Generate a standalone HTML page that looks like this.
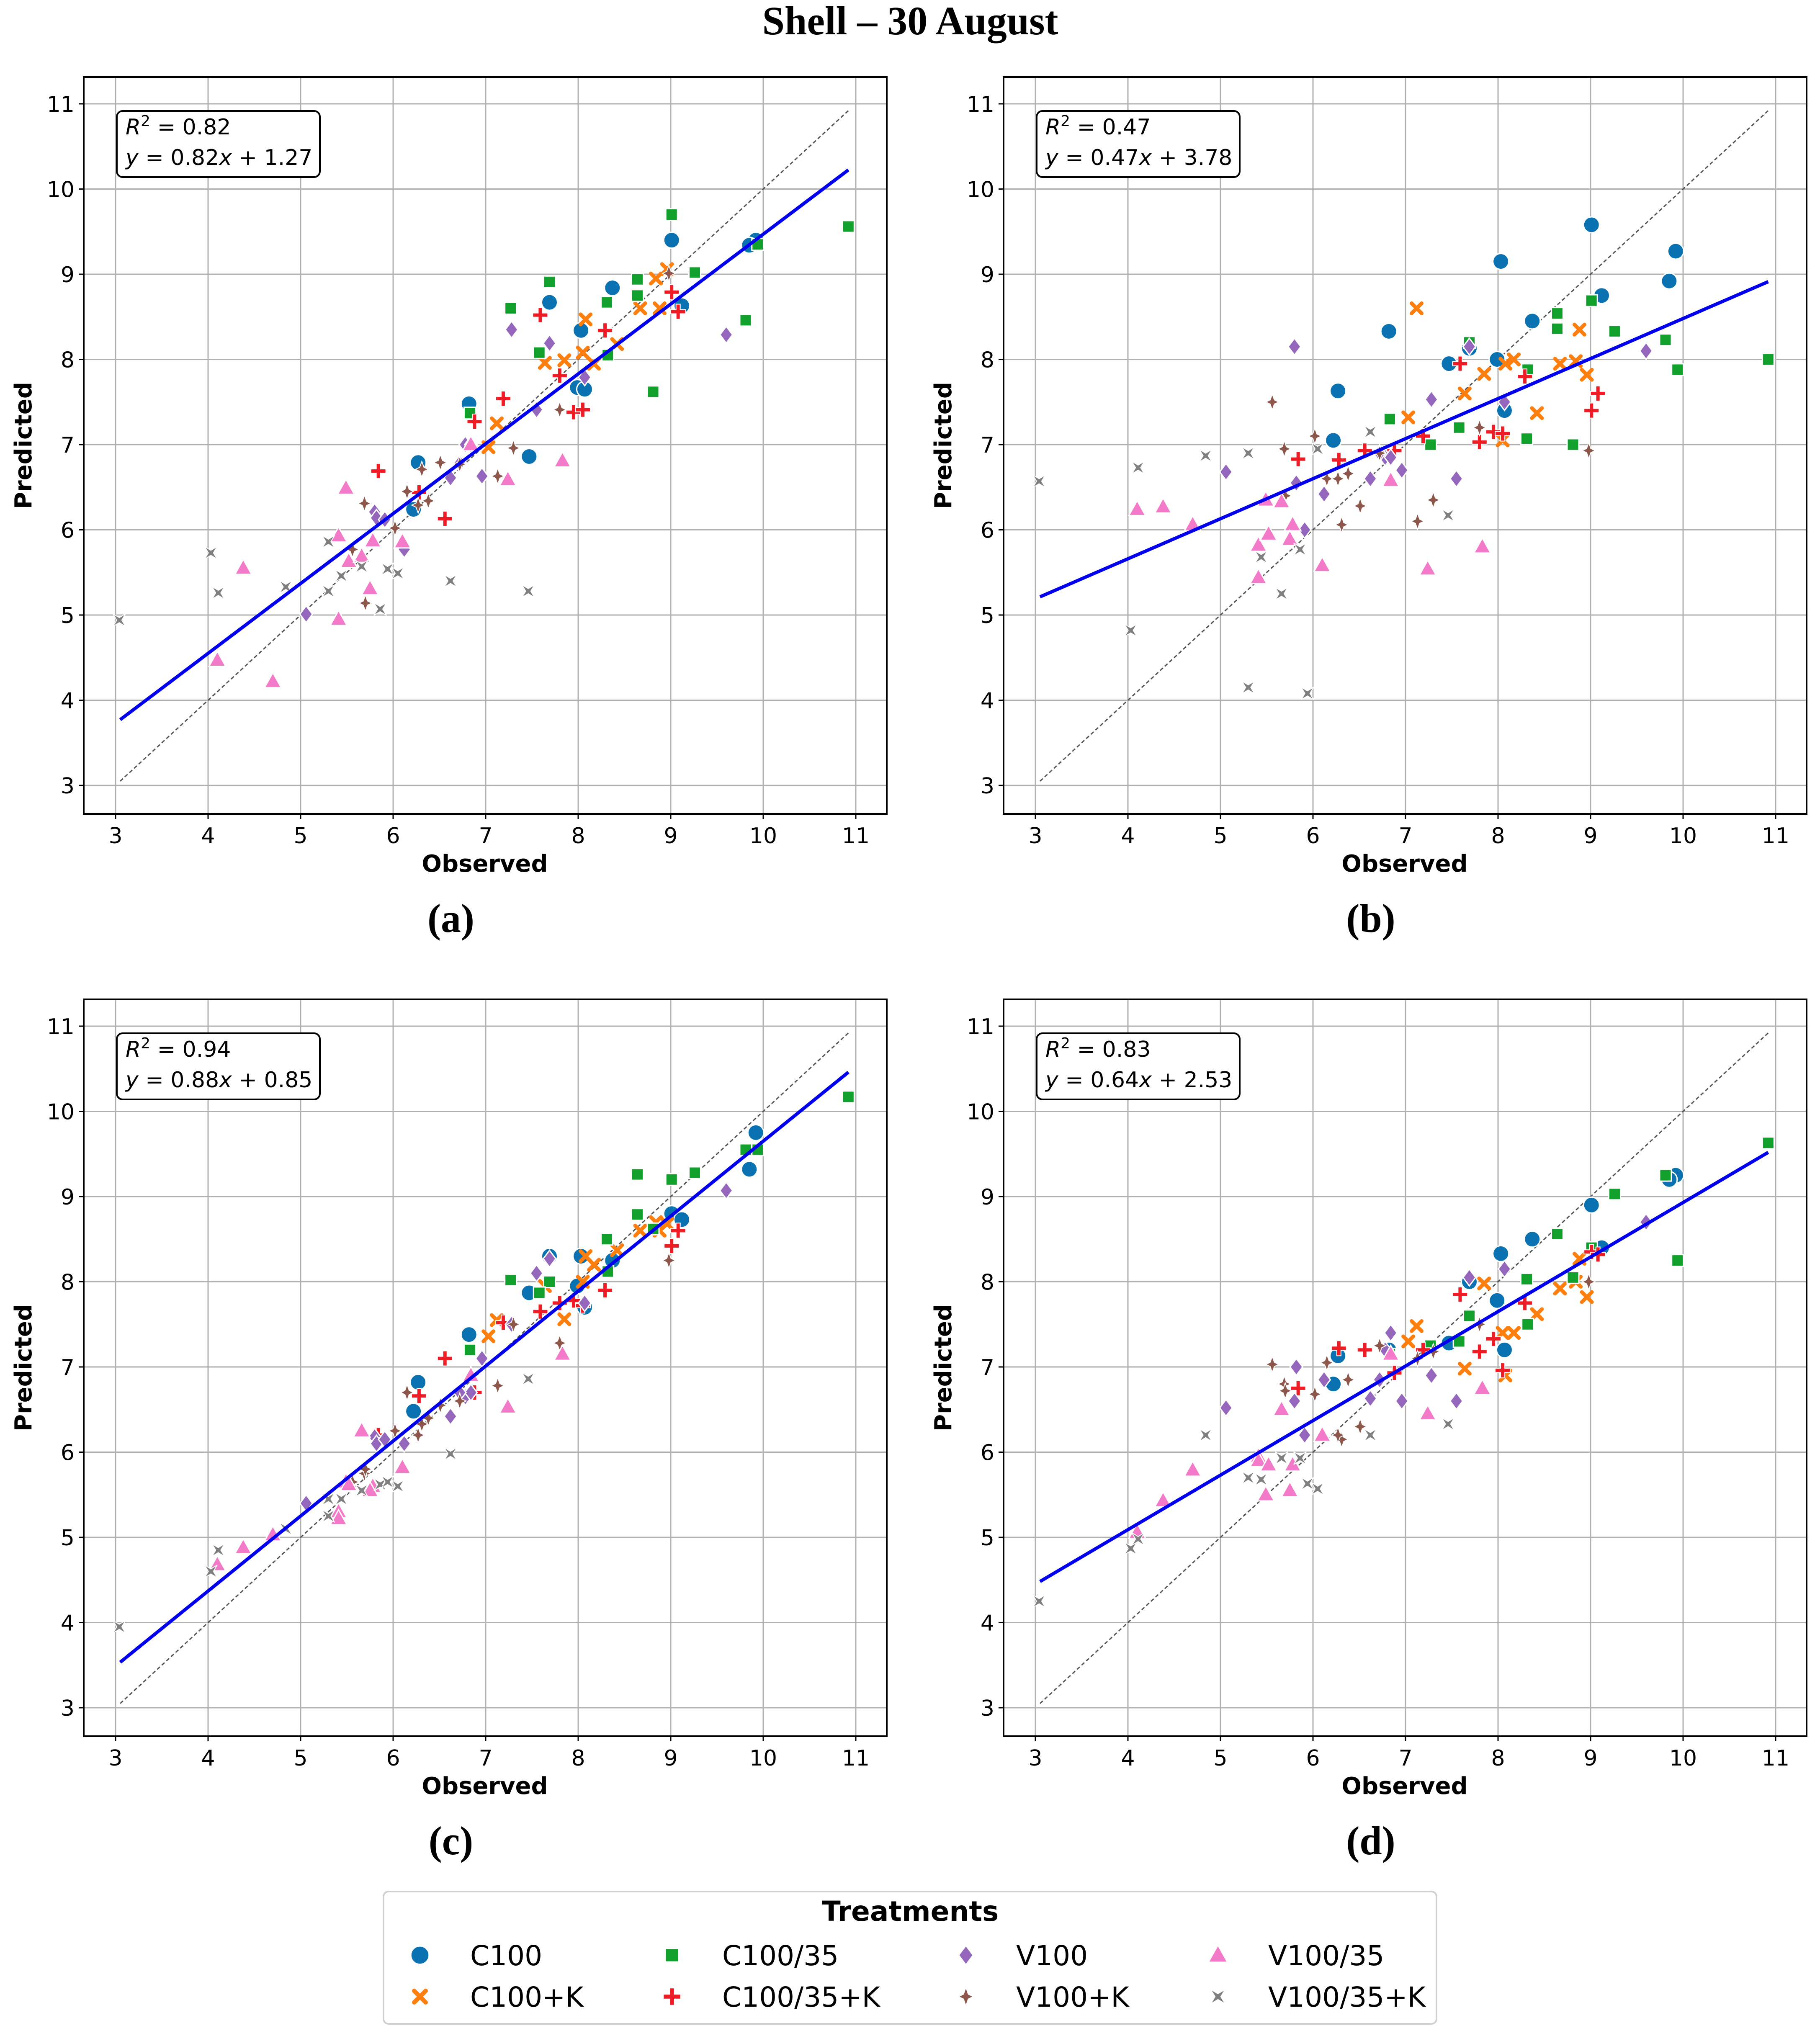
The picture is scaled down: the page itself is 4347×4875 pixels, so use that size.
<!DOCTYPE html>
<html><head><meta charset="utf-8"><style>
html,body{margin:0;padding:0;background:#fff;}
svg{display:block;}
</style></head><body>
<svg id="fig" width="4347" height="4875" viewBox="0 0 4347 4875" xmlns="http://www.w3.org/2000/svg">
<rect x="0" y="0" width="4347" height="4875" fill="#fff"/>
<text x="2174" y="82" text-anchor="middle" font-family="Liberation Serif, serif" font-weight="bold" font-size="96">Shell – 30 August</text>
<g id="panels"></g>
<g id="legend">
<rect x="916" y="4518" width="2515" height="316" rx="12" fill="#fff" stroke="#d0d0d0" stroke-width="4"/>
<text x="2174" y="4588" text-anchor="middle" font-family="DejaVu Sans, sans-serif" font-weight="bold" font-size="66">Treatments</text>
</g>
</svg>
<script>
const NS='http://www.w3.org/2000/svg';
const treatments=['C100','C100+K','C100/35','C100/35+K','V100','V100+K','V100/35','V100/35+K'];
const colors=['#0a72b0','#ff7f0e','#12a02c','#ee1c25','#9467bd','#8c564b','#f27ac8','#7f7f7f'];
const shapes=['circle','x','square','plus','diamond','star','triangle','xstar'];

// Observed values per treatment
const obsC100=[7.69,9.01,8.37,8.03,7.99,8.07,6.82,6.27,6.22,7.47,9.12,9.92,9.85];
const obsC100K=[8.08,7.64,7.85,8.05,8.17,8.42,8.67,8.84,8.96,8.88,7.12,7.03];
const obsC10035=[9.01,7.69,7.27,8.64,8.64,8.31,7.58,8.32,9.26,10.92,9.94,9.81,8.81,6.83];
const obsC10035K=[7.59,8.29,9.01,9.08,7.80,7.95,8.05,7.19,6.88,5.84,6.56,6.28];
const obsV100=[7.28,7.69,9.60,8.07,7.55,6.78,6.84,6.96,6.62,6.72,5.80,5.82,5.91,6.12,5.06];
const obsV100K=[8.98,7.80,7.30,7.13,6.51,6.31,6.15,6.27,6.38,5.69,5.56,6.02,5.70,6.72];
const obsV10035=[5.49,5.41,4.38,4.10,4.70,5.41,5.52,5.66,5.78,5.75,6.10,7.24,7.83,6.84];
const obsV10035K=[3.04,4.03,4.11,4.84,5.30,5.30,5.44,5.66,5.86,5.94,6.05,6.62,7.46];

// Panel (a) predicted
const aC100=[8.67,9.40,8.84,8.34,7.67,7.65,7.48,6.79,6.24,6.86,8.63,9.40,9.34];
const aC100K=[8.47,7.96,7.99,8.08,7.95,8.18,8.60,8.95,9.06,8.60,7.25,6.97];
const aC10035=[9.70,8.91,8.60,8.94,8.75,8.67,8.08,8.05,9.02,9.56,9.35,8.46,7.62,7.37];
const aC10035K=[8.52,8.34,8.79,8.56,7.81,7.38,7.41,7.54,7.27,6.69,6.13,6.44];
const aV100=[8.35,8.19,8.29,7.79,7.41,7.00,7.00,6.63,6.61,6.78,6.21,6.14,6.12,5.77,5.01];
const aV100K=[9.01,7.41,6.96,6.63,6.79,6.71,6.45,6.29,6.34,6.31,5.77,6.02,5.14,6.77];
const aV10035=[6.49,5.93,5.55,4.47,4.22,4.95,5.63,5.69,5.87,5.31,5.86,6.59,6.81,7.00];
const aV10035K=[4.94,5.73,5.26,5.33,5.86,5.28,5.46,5.57,5.07,5.54,5.49,5.40,5.28];
// Panel (b) predicted
const bC100=[8.13,9.58,8.45,9.15,8.00,7.40,8.33,7.63,7.05,7.95,8.75,9.27,8.92];
const bC100K=[7.95,7.60,7.83,7.05,8.00,7.37,7.95,7.98,7.82,8.35,8.60,7.32];
const bC10035=[8.69,8.20,7.00,8.54,8.36,7.07,7.20,7.88,8.33,8.00,7.88,8.23,7.00,7.30];
const bC10035K=[7.95,7.80,7.40,7.60,7.03,7.15,7.13,7.10,6.93,6.83,6.93,6.82];
const bV100=[7.53,8.15,8.10,7.50,6.60,6.85,6.85,6.70,6.60,6.90,8.15,6.55,6.00,6.42,6.68];
const bV100K=[6.93,7.20,6.35,6.10,6.28,6.06,6.60,6.60,6.66,6.95,7.50,7.10,6.40,6.90];
const bV10035=[6.35,5.82,6.27,6.24,6.06,5.44,5.95,6.33,6.06,5.89,5.58,5.54,5.80,6.58];
const bV10035K=[6.57,4.82,6.73,6.87,6.90,4.15,5.68,5.25,5.77,4.08,6.95,7.15,6.17];
// Panel (c) predicted
const cC100=[8.30,8.80,8.25,8.30,7.95,7.70,7.38,6.82,6.48,7.87,8.73,9.75,9.32];
const cC100K=[8.30,7.95,7.56,8.00,8.20,8.37,8.60,8.70,8.68,8.60,7.55,7.36];
const cC10035=[9.20,8.00,8.02,9.26,8.79,8.50,7.87,8.12,9.28,10.17,9.55,9.55,8.62,7.20];
const cC10035K=[7.65,7.90,8.42,8.60,7.75,7.78,7.72,7.52,6.70,6.20,7.10,6.66];
const cV100=[7.50,8.27,9.07,7.75,8.10,6.65,6.70,7.10,6.42,6.70,6.18,6.10,6.15,6.10,5.40];
const cV100K=[8.25,7.28,7.50,6.78,6.55,6.33,6.70,6.20,6.40,5.75,5.65,6.25,5.80,6.60];
const cV10035=[5.65,5.30,4.88,4.68,5.03,5.22,5.62,6.25,5.60,5.55,5.82,6.53,7.15,6.90];
const cV10035K=[3.95,4.60,4.85,5.10,5.25,5.45,5.45,5.55,5.62,5.65,5.60,5.98,6.86];
// Panel (d) predicted
const dC100=[8.00,8.90,8.50,8.33,7.78,7.20,7.20,7.13,6.80,7.28,8.40,9.25,9.20];
const dC100K=[6.90,6.98,7.98,7.40,7.40,7.62,7.92,8.00,7.82,8.27,7.48,7.30];
const dC10035=[8.40,7.60,7.25,8.56,8.56,8.03,7.30,7.50,9.03,9.63,8.25,9.25,8.05,7.15];
const dC10035K=[7.85,7.75,8.35,8.32,7.18,7.33,6.96,7.20,6.93,6.75,7.20,7.22];
const dV100=[6.90,8.05,8.70,8.15,6.60,7.20,7.40,6.60,6.63,6.85,6.60,7.00,6.20,6.85,6.52];
const dV100K=[8.00,7.50,7.18,7.10,6.30,6.15,7.05,6.20,6.85,6.80,7.03,6.68,6.72,7.25];
const dV10035=[5.50,5.95,5.43,5.06,5.79,5.90,5.85,6.50,5.85,5.55,6.20,6.45,6.75,7.15];
const dV10035K=[4.25,4.87,4.98,6.20,5.70,5.70,5.68,5.93,5.93,5.63,5.57,6.20,6.33];

const observed=[obsC100,obsC100K,obsC10035,obsC10035K,obsV100,obsV100K,obsV10035,obsV10035K];
const panelLabels=['(a)','(b)','(c)','(d)'];
const r2Values=['0.82','0.47','0.94','0.83'];
const slopes=[0.82,0.47,0.88,0.64];
const intercepts=[1.27,3.78,0.85,2.53];
const predicted=[
 [aC100,aC100K,aC10035,aC10035K,aV100,aV100K,aV10035,aV10035K],
 [bC100,bC100K,bC10035,bC10035K,bV100,bV100K,bV10035,bV10035K],
 [cC100,cC100K,cC10035,cC10035K,cV100,cC100K.length?cV100K:cV100K,cV10035,cV10035K],
 [dC100,dC100K,dC10035,dC10035K,dV100,dV100K,dV10035,dV10035K]];
const ticks=[3,4,5,6,7,8,9,10,11];
const fitRange=[3.05,10.92];

const origins=[[200,184],[2397,184],[200,2387],[2397,2387]];
const BW=1918,BH=1760;
const Y11=64,Y3=1692;

function el(tag,attrs,parent){const e=document.createElementNS(NS,tag);for(const k in attrs)e.setAttribute(k,attrs[k]);parent.appendChild(e);return e;}

function marker(g,shape,cx,cy,color,s){
  let e; const sw=3;
  if(shape==='circle'){e=el('circle',{cx:cx,cy:cy,r:19*s,fill:color,stroke:'#fff','stroke-width':sw},g);}
  else if(shape==='square'){e=el('rect',{x:cx-14*s,y:cy-14*s,width:28*s,height:28*s,fill:color,stroke:'#fff','stroke-width':sw},g);}
  else if(shape==='diamond'){const w=15*s,h=20*s;e=el('polygon',{points:`${cx},${cy-h} ${cx+w},${cy} ${cx},${cy+h} ${cx-w},${cy}`,fill:color,stroke:'#fff','stroke-width':sw},g);}
  else if(shape==='triangle'){const r=21*s;e=el('polygon',{points:`${cx},${cy-r} ${cx+r*0.95},${cy+r*0.7} ${cx-r*0.95},${cy+r*0.7}`,fill:color,stroke:'#fff','stroke-width':sw},g);}
  else if(shape==='plus'){const a=18*s,b=5*s;e=el('polygon',{points:`${cx-b},${cy-a} ${cx+b},${cy-a} ${cx+b},${cy-b} ${cx+a},${cy-b} ${cx+a},${cy+b} ${cx+b},${cy+b} ${cx+b},${cy+a} ${cx-b},${cy+a} ${cx-b},${cy+b} ${cx-a},${cy+b} ${cx-a},${cy-b} ${cx-b},${cy-b}`,fill:color,stroke:'#fff','stroke-width':2},g);}
  else if(shape==='x'){const a=12*s;e=el('path',{d:`M${cx-a},${cy-a}L${cx+a},${cy+a}M${cx+a},${cy-a}L${cx-a},${cy+a}`,stroke:color,'stroke-width':9*s,'stroke-linecap':'round',fill:'none'},g);}
  else if(shape==='star'){const a=19*s,b=5*s;e=el('polygon',{points:`${cx},${cy-a} ${cx+b},${cy-b} ${cx+a*0.8},${cy} ${cx+b},${cy+b} ${cx},${cy+a} ${cx-b},${cy+b} ${cx-a*0.8},${cy} ${cx-b},${cy-b}`,fill:color,stroke:'#fff','stroke-width':2},g);}
  else {const a=15*s,b=6*s;e=el('polygon',{points:`${cx-a},${cy-a} ${cx},${cy-b} ${cx+a},${cy-a} ${cx+b},${cy} ${cx+a},${cy+a} ${cx},${cy+b} ${cx-a},${cy+a} ${cx-b},${cy}`,fill:color,stroke:'#fff','stroke-width':2},g);}
  return e;
}

const panels=document.getElementById('panels');
for(let p=0;p<4;p++){
  const [ox,oy]=origins[p];
  const xs=v=>ox+76+(v-3)*(BW-76-74)/8;
  const ys=v=>oy+Y11+(11-v)*(Y3-Y11)/8;
  const g=el('g',{},panels);
  
  
  for(const t of ticks){
    const gx=el('line',{x1:xs(t),x2:xs(t),y1:oy,y2:oy+BH,stroke:'#b0b0b0','stroke-width':3},g);
    
    
    const gy=el('line',{x1:ox,x2:ox+BW,y1:ys(t),y2:ys(t),stroke:'#b0b0b0','stroke-width':3},g);
    
    
    const tx=el('line',{x1:xs(t),x2:xs(t),y1:oy+BH,y2:oy+BH+12,stroke:'#000','stroke-width':3},g);
    
    
    const ty=el('line',{x1:ox-12,x2:ox,y1:ys(t),y2:ys(t),stroke:'#000','stroke-width':3},g);
    
    
    const lx=el('text',{x:xs(t),y:oy+BH+70,'text-anchor':'middle','font-family':'DejaVu Sans, sans-serif','font-size':52},g);
    lx.textContent=t;
    
    
    const ly=el('text',{x:ox-22,y:ys(t)+19,'text-anchor':'end','font-family':'DejaVu Sans, sans-serif','font-size':52},g);
    ly.textContent=t;
    
    
  }
  const idl=el('line',{x1:xs(fitRange[0]),y1:ys(fitRange[0]),x2:xs(fitRange[1]),y2:ys(fitRange[1]),stroke:'#555','stroke-width':3,'stroke-dasharray':'9,6'},g);
  
  
  for(let t=0;t<8;t++){
    const obs=observed[t],pr=predicted[p][t];
    for(let i=0;i<obs.length;i++){
      const m=marker(g,shapes[t],xs(obs[i]),ys(pr[i]),colors[t],1);
      
      
    }
  }
  const fl=el('line',{x1:xs(fitRange[0]),y1:ys(slopes[p]*fitRange[0]+intercepts[p]),x2:xs(fitRange[1]),y2:ys(slopes[p]*fitRange[1]+intercepts[p]),stroke:'#0000ee','stroke-width':8},g);
  
  
  const fr=el('rect',{x:ox,y:oy,width:BW,height:BH,fill:'none',stroke:'#000','stroke-width':4},g);
  
  
  const ab=el('rect',{x:ox+79,y:oy+81,width:485,height:158,rx:14,fill:'#fff',stroke:'#000','stroke-width':4},g);
  
  
  const t1=el('text',{x:ox+100,y:oy+137,'font-family':'DejaVu Sans, sans-serif','font-size':52},g);
  t1.innerHTML='<tspan font-style="italic">R</tspan><tspan dy="-20" font-size="36">2</tspan><tspan dy="20"> = '+r2Values[p]+'</tspan>';
  
  
  const t2=el('text',{x:ox+100,y:oy+210,'font-family':'DejaVu Sans, sans-serif','font-size':52},g);
  t2.innerHTML='<tspan font-style="italic">y</tspan> = '+slopes[p].toFixed(2)+'<tspan font-style="italic">x</tspan> + '+intercepts[p].toFixed(2);
  
  
  const xt=el('text',{x:ox+958,y:oy+BH+138,'text-anchor':'middle','font-family':'DejaVu Sans, sans-serif','font-weight':'bold','font-size':56},g);
  xt.textContent='Observed';
  
  
  const yt=el('text',{x:0,y:0,'text-anchor':'middle','font-family':'DejaVu Sans, sans-serif','font-weight':'bold','font-size':56,transform:`translate(${ox-125},${oy+BH/2}) rotate(-90)`},g);
  yt.textContent='Predicted';
  
  
  const pl=el('text',{x:ox+877,y:oy+BH+282,'text-anchor':'middle','font-family':'Liberation Serif, serif','font-weight':'bold','font-size':96},g);
  pl.textContent=panelLabels[p];
  
  
}
const leg=document.getElementById('legend');
const colX=[1003,1605,2307,2909];
const rowY=[4670,4769];
const order=[0,2,4,6,1,3,5,7];
for(let k=0;k<8;k++){
  const t=order[k];
  const cx=colX[k%4],cy=rowY[Math.floor(k/4)];
  const m=marker(leg,shapes[t],cx,cy,colors[t],1.15);
  
  
  const tx=el('text',{x:cx+120,y:cy+24,'font-family':'DejaVu Sans, sans-serif','font-size':66},leg);
  tx.textContent=treatments[t];
  
  
}
</script>
</body></html>
